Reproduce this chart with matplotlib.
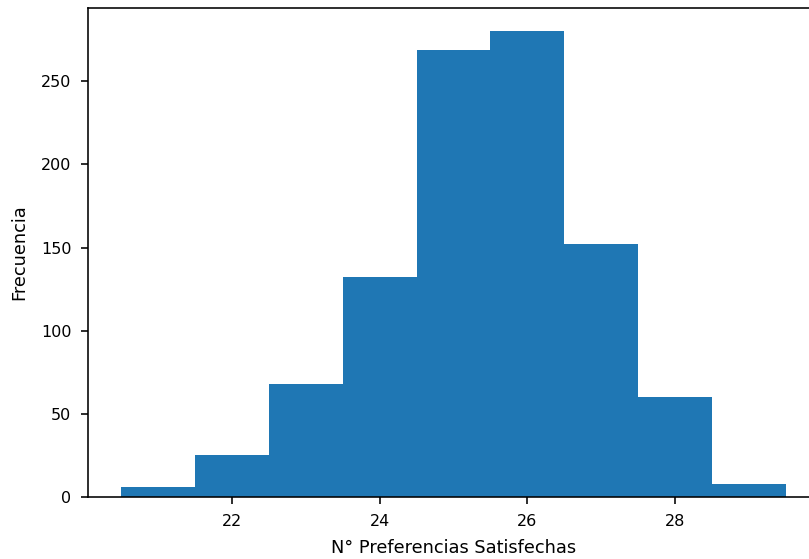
import matplotlib
matplotlib.use("Agg")
import matplotlib.pyplot as plt
import numpy as np

# datos del histograma
bordes = [20.5, 21.5, 22.5, 23.5, 24.5, 25.5, 26.5, 27.5, 28.5, 29.5]
frecuencia = [6, 25, 68, 132, 269, 280, 152, 60, 8]

dpi = 144
plt.rcParams['font.size'] = 8
plt.rcParams['xtick.major.pad'] = 4.8
plt.rcParams['ytick.major.pad'] = 4.8

fig = plt.figure(figsize=(809 / dpi, 559 / dpi), dpi=dpi)
W, H = 809, 559
ax = fig.add_axes([88 / W, (H - 497) / H, (819 - 88) / W, (497 - 8) / H])

centros = np.array(bordes[:-1]) + 0.5
ax.hist(centros, bins=bordes, weights=frecuencia, color='#1f77b4')
ax.set_xlim(20.05, 29.95)
ax.set_ylim(0, 294)
ax.set_xticks([22, 24, 26, 28])
ax.set_yticks([0, 50, 100, 150, 200, 250])

ax.set_xlabel('N° Preferencias Satisfechas', fontsize=8.9, labelpad=5)
ax.set_ylabel('Frecuencia', fontsize=8.9, labelpad=6.5)

fig.savefig('out.png', dpi=dpi)
